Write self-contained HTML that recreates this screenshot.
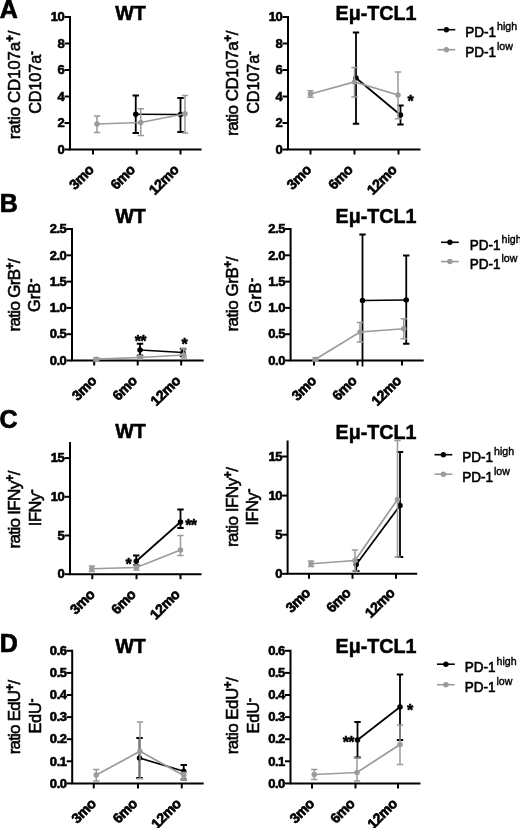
<!DOCTYPE html>
<html><head><meta charset="utf-8"><title>Figure</title>
<style>
html,body{margin:0;padding:0;background:#fff}
svg{display:block;filter:blur(.35px)}
text{font-family:"Liberation Sans", Arial, sans-serif;fill:#000}
.tk{font-size:13px;font-weight:bold;stroke:#000;stroke-width:.6px;letter-spacing:-.45px}
.xk{font-size:14.1px;font-weight:bold;stroke:#000;stroke-width:.65px;letter-spacing:-.35px}
.ti{font-size:19.7px;font-weight:bold;stroke:#000;stroke-width:.5px}
.le{font-size:25px;font-weight:bold;stroke:#000;stroke-width:.7px}
.yl{stroke:#000;stroke-width:.55px}
.lg{font-size:15.2px;stroke:#000;stroke-width:.65px}
.ls{font-size:10.6px;stroke:#000;stroke-width:.4px}
.st{font-size:16px;font-weight:bold;stroke:#000;stroke-width:.5px;letter-spacing:-.6px}
</style></head><body>
<svg width="520" height="828" viewBox="0 0 520 828">
<rect width="520" height="828" fill="#fff"/>
<text x="-0.3" y="17.5" class="le">A</text>
<path d="M70 16.0V149.5H201.5" fill="none" stroke="#000" stroke-width="2"/>
<path d="M64.5 149.5H70" stroke="#000" stroke-width="2"/>
<text x="64.4" y="153.7" text-anchor="end" class="tk">0</text>
<path d="M64.5 123.0H70" stroke="#000" stroke-width="2"/>
<text x="64.4" y="127.2" text-anchor="end" class="tk">2</text>
<path d="M64.5 96.5H70" stroke="#000" stroke-width="2"/>
<text x="64.4" y="100.7" text-anchor="end" class="tk">4</text>
<path d="M64.5 70.0H70" stroke="#000" stroke-width="2"/>
<text x="64.4" y="74.2" text-anchor="end" class="tk">6</text>
<path d="M64.5 43.5H70" stroke="#000" stroke-width="2"/>
<text x="64.4" y="47.7" text-anchor="end" class="tk">8</text>
<path d="M64.5 17.0H70" stroke="#000" stroke-width="2"/>
<text x="64.4" y="21.2" text-anchor="end" class="tk">10</text>
<path d="M93 149.5V154.5" stroke="#000" stroke-width="2"/>
<text transform="translate(94.7 170.7) rotate(-45)" text-anchor="end" class="xk">3mo</text>
<path d="M136.75 149.5V154.5" stroke="#000" stroke-width="2"/>
<text transform="translate(135.95 170.7) rotate(-45)" text-anchor="end" class="xk">6mo</text>
<path d="M180.5 149.5V154.5" stroke="#000" stroke-width="2"/>
<text transform="translate(179.7 170.7) rotate(-45)" text-anchor="end" class="xk">12mo</text>
<text x="130.5" y="19.8" text-anchor="middle" class="ti">WT</text>
<text transform="translate(20.4 139.20000000000002) rotate(-90)" textLength="108.6" lengthAdjust="spacing" class="yl" font-size="17">ratio CD107a<tspan dy="-6" font-size="12" font-weight="bold">+</tspan><tspan dy="6">/</tspan></text>
<text transform="translate(41.2 113.8) rotate(-90)" textLength="62.9" lengthAdjust="spacing" class="yl" font-size="16.4">CD107a<tspan dy="-5" font-size="12" font-weight="bold">-</tspan></text>
<path d="M135.75 114.25 L180.5 114.5" fill="none" stroke="#000" stroke-width="1.75"/>
<path d="M135.75 95.5V133M132.55 95.5H138.95M132.55 133H138.95" fill="none" stroke="#000" stroke-width="1.8"/>
<circle cx="135.75" cy="114.25" r="2.75" fill="#000"/>
<path d="M180.5 98V132M177.3 98H183.7M177.3 132H183.7" fill="none" stroke="#000" stroke-width="1.8"/>
<circle cx="180.5" cy="114.5" r="2.75" fill="#000"/>
<path d="M97 124 L140.75 122.5 L185 113.75" fill="none" stroke="#9b9b9b" stroke-width="1.75"/>
<path d="M97 116V132.5M93.8 116H100.2M93.8 132.5H100.2" fill="none" stroke="#9b9b9b" stroke-width="1.5"/>
<circle cx="97" cy="124" r="2.75" fill="#9b9b9b"/>
<path d="M140.75 108.75V135.5M137.55 108.75H143.95M137.55 135.5H143.95" fill="none" stroke="#9b9b9b" stroke-width="1.5"/>
<circle cx="140.75" cy="122.5" r="2.75" fill="#9b9b9b"/>
<path d="M185 95.5V133M181.8 95.5H188.2M181.8 133H188.2" fill="none" stroke="#9b9b9b" stroke-width="1.5"/>
<circle cx="185" cy="113.75" r="2.75" fill="#9b9b9b"/>
<path d="M288 16.0V149.5H420.5" fill="none" stroke="#000" stroke-width="2"/>
<path d="M282.5 149.5H288" stroke="#000" stroke-width="2"/>
<text x="282.4" y="153.7" text-anchor="end" class="tk">0</text>
<path d="M282.5 123.0H288" stroke="#000" stroke-width="2"/>
<text x="282.4" y="127.2" text-anchor="end" class="tk">2</text>
<path d="M282.5 96.5H288" stroke="#000" stroke-width="2"/>
<text x="282.4" y="100.7" text-anchor="end" class="tk">4</text>
<path d="M282.5 70.0H288" stroke="#000" stroke-width="2"/>
<text x="282.4" y="74.2" text-anchor="end" class="tk">6</text>
<path d="M282.5 43.5H288" stroke="#000" stroke-width="2"/>
<text x="282.4" y="47.7" text-anchor="end" class="tk">8</text>
<path d="M282.5 17.0H288" stroke="#000" stroke-width="2"/>
<text x="282.4" y="21.2" text-anchor="end" class="tk">10</text>
<path d="M310.5 149.5V154.5" stroke="#000" stroke-width="2"/>
<text transform="translate(312.2 170.7) rotate(-45)" text-anchor="end" class="xk">3mo</text>
<path d="M354.5 149.5V154.5" stroke="#000" stroke-width="2"/>
<text transform="translate(353.7 170.7) rotate(-45)" text-anchor="end" class="xk">6mo</text>
<path d="M398.5 149.5V154.5" stroke="#000" stroke-width="2"/>
<text transform="translate(397.7 170.7) rotate(-45)" text-anchor="end" class="xk">12mo</text>
<text x="376.0" y="19.6" text-anchor="middle" class="ti">Eμ-TCL1</text>
<text transform="translate(238.4 136.0) rotate(-90)" textLength="105.4" lengthAdjust="spacing" class="yl" font-size="17">ratio CD107a<tspan dy="-6" font-size="12" font-weight="bold">+</tspan><tspan dy="6">/</tspan></text>
<text transform="translate(259.2 113.8) rotate(-90)" textLength="62.9" lengthAdjust="spacing" class="yl" font-size="16.4">CD107a<tspan dy="-5" font-size="12" font-weight="bold">-</tspan></text>
<path d="M356 78 L400.5 115" fill="none" stroke="#000" stroke-width="1.75"/>
<path d="M356 32.5V123.75M352.8 32.5H359.2M352.8 123.75H359.2" fill="none" stroke="#000" stroke-width="1.8"/>
<circle cx="356" cy="78" r="2.75" fill="#000"/>
<path d="M400.5 105.5V124.5M397.3 105.5H403.7M397.3 124.5H403.7" fill="none" stroke="#000" stroke-width="1.8"/>
<circle cx="400.5" cy="115" r="2.75" fill="#000"/>
<path d="M310.5 94 L354.5 82 L398 95" fill="none" stroke="#9b9b9b" stroke-width="1.75"/>
<path d="M310.5 90.7V97.3M307.3 90.7H313.7M307.3 97.3H313.7" fill="none" stroke="#9b9b9b" stroke-width="1.5"/>
<circle cx="310.5" cy="94" r="2.75" fill="#9b9b9b"/>
<path d="M354.5 67.5V97M351.3 67.5H357.7M351.3 97H357.7" fill="none" stroke="#9b9b9b" stroke-width="1.5"/>
<circle cx="354.5" cy="82" r="2.75" fill="#9b9b9b"/>
<path d="M398 72V118.75M394.8 72H401.2M394.8 118.75H401.2" fill="none" stroke="#9b9b9b" stroke-width="1.5"/>
<circle cx="398" cy="95" r="2.75" fill="#9b9b9b"/>
<text x="410.3" y="107.35" text-anchor="middle" class="st">*</text>
<path d="M437.5 29.7H455.3" stroke="#000" stroke-width="1.6"/>
<circle cx="446.4" cy="29.7" r="2.7" fill="#000"/>
<text transform="translate(465.3 37.2) scale(.89 1)" class="lg">PD-1</text>
<text x="497" y="30.0" class="ls">high</text>
<path d="M437.5 49.7H455.3" stroke="#9b9b9b" stroke-width="1.6"/>
<circle cx="446.4" cy="49.7" r="2.7" fill="#9b9b9b"/>
<text transform="translate(465.3 57.2) scale(.89 1)" class="lg">PD-1</text>
<text x="497" y="50.0" class="ls">low</text>
<text x="-0.3" y="211.6" class="le">B</text>
<path d="M72 228.0V360.5H203.7" fill="none" stroke="#000" stroke-width="2"/>
<path d="M66.5 360.5H72" stroke="#000" stroke-width="2"/>
<text x="66.4" y="364.7" text-anchor="end" class="tk">0.0</text>
<path d="M66.5 334.2H72" stroke="#000" stroke-width="2"/>
<text x="66.4" y="338.4" text-anchor="end" class="tk">0.5</text>
<path d="M66.5 307.9H72" stroke="#000" stroke-width="2"/>
<text x="66.4" y="312.09999999999997" text-anchor="end" class="tk">1.0</text>
<path d="M66.5 281.6H72" stroke="#000" stroke-width="2"/>
<text x="66.4" y="285.8" text-anchor="end" class="tk">1.5</text>
<path d="M66.5 255.3H72" stroke="#000" stroke-width="2"/>
<text x="66.4" y="259.5" text-anchor="end" class="tk">2.0</text>
<path d="M66.5 229.0H72" stroke="#000" stroke-width="2"/>
<text x="66.4" y="233.2" text-anchor="end" class="tk">2.5</text>
<path d="M94.2 360.5V365.5" stroke="#000" stroke-width="2"/>
<text transform="translate(97.4 381.7) rotate(-45)" text-anchor="end" class="xk">3mo</text>
<path d="M137.7 360.5V365.5" stroke="#000" stroke-width="2"/>
<text transform="translate(137.89999999999998 381.7) rotate(-45)" text-anchor="end" class="xk">6mo</text>
<path d="M181.2 360.5V365.5" stroke="#000" stroke-width="2"/>
<text transform="translate(181.39999999999998 381.7) rotate(-45)" text-anchor="end" class="xk">12mo</text>
<text x="130.5" y="223.3" text-anchor="middle" class="ti">WT</text>
<text transform="translate(20.0 331.6) rotate(-90)" textLength="73.2" lengthAdjust="spacing" class="yl" font-size="17">ratio GrB<tspan dy="-6" font-size="12" font-weight="bold">+</tspan><tspan dy="6">/</tspan></text>
<text transform="translate(40.2 312.1) rotate(-90)" textLength="33.5" lengthAdjust="spacing" class="yl" font-size="16.4">GrB<tspan dy="-5" font-size="12" font-weight="bold">-</tspan></text>
<path d="M140 350 L183 352.5" fill="none" stroke="#000" stroke-width="1.75"/>
<path d="M140 343.75V355.5M136.8 343.75H143.2M136.8 355.5H143.2" fill="none" stroke="#000" stroke-width="1.8"/>
<circle cx="140" cy="350" r="2.75" fill="#000"/>
<path d="M183 348.75V356M179.8 348.75H186.2M179.8 356H186.2" fill="none" stroke="#000" stroke-width="1.8"/>
<circle cx="183" cy="352.5" r="2.75" fill="#000"/>
<path d="M96.3 359.2 L140 357.5 L183.75 355" fill="none" stroke="#9b9b9b" stroke-width="1.75"/>
<path d="M96.3 357.7V360.7M93.1 357.7H99.5M93.1 360.7H99.5" fill="none" stroke="#9b9b9b" stroke-width="1.5"/>
<circle cx="96.3" cy="359.2" r="2.75" fill="#9b9b9b"/>
<path d="M140 356V359M136.8 356H143.2M136.8 359H143.2" fill="none" stroke="#9b9b9b" stroke-width="1.5"/>
<circle cx="140" cy="357.5" r="2.75" fill="#9b9b9b"/>
<path d="M183.75 348.75V358M180.55 348.75H186.95M180.55 358H186.95" fill="none" stroke="#9b9b9b" stroke-width="1.5"/>
<circle cx="183.75" cy="355" r="2.75" fill="#9b9b9b"/>
<text x="140.3" y="346.6" text-anchor="middle" class="st">**</text>
<text x="184.3" y="349.6" text-anchor="middle" class="st">*</text>
<path d="M290.6 228.0V360.5H423.75" fill="none" stroke="#000" stroke-width="2"/>
<path d="M285.1 360.5H290.6" stroke="#000" stroke-width="2"/>
<text x="285.0" y="364.7" text-anchor="end" class="tk">0.0</text>
<path d="M285.1 334.2H290.6" stroke="#000" stroke-width="2"/>
<text x="285.0" y="338.4" text-anchor="end" class="tk">0.5</text>
<path d="M285.1 307.9H290.6" stroke="#000" stroke-width="2"/>
<text x="285.0" y="312.09999999999997" text-anchor="end" class="tk">1.0</text>
<path d="M285.1 281.6H290.6" stroke="#000" stroke-width="2"/>
<text x="285.0" y="285.8" text-anchor="end" class="tk">1.5</text>
<path d="M285.1 255.3H290.6" stroke="#000" stroke-width="2"/>
<text x="285.0" y="259.5" text-anchor="end" class="tk">2.0</text>
<path d="M285.1 229.0H290.6" stroke="#000" stroke-width="2"/>
<text x="285.0" y="233.2" text-anchor="end" class="tk">2.5</text>
<path d="M314 360.5V365.5" stroke="#000" stroke-width="2"/>
<text transform="translate(317.2 381.7) rotate(-45)" text-anchor="end" class="xk">3mo</text>
<path d="M357.5 360.5V365.5" stroke="#000" stroke-width="2"/>
<text transform="translate(357.7 381.7) rotate(-45)" text-anchor="end" class="xk">6mo</text>
<path d="M402 360.5V365.5" stroke="#000" stroke-width="2"/>
<text transform="translate(402.2 381.7) rotate(-45)" text-anchor="end" class="xk">12mo</text>
<text x="376.0" y="223.2" text-anchor="middle" class="ti">Eμ-TCL1</text>
<text transform="translate(238.3 331.6) rotate(-90)" textLength="75.2" lengthAdjust="spacing" class="yl" font-size="17">ratio GrB<tspan dy="-6" font-size="12" font-weight="bold">+</tspan><tspan dy="6">/</tspan></text>
<text transform="translate(260.7 312.8) rotate(-90)" textLength="34.9" lengthAdjust="spacing" class="yl" font-size="16.4">GrB<tspan dy="-5" font-size="12" font-weight="bold">-</tspan></text>
<path d="M362.5 300.5 L406.25 300" fill="none" stroke="#000" stroke-width="1.75"/>
<path d="M362.5 234.5V366.5M359.3 234.5H365.7" fill="none" stroke="#000" stroke-width="1.8"/>
<circle cx="362.5" cy="300.5" r="2.75" fill="#000"/>
<path d="M406.25 255.5V343.75M403.05 255.5H409.45M403.05 343.75H409.45" fill="none" stroke="#000" stroke-width="1.8"/>
<circle cx="406.25" cy="300" r="2.75" fill="#000"/>
<path d="M315.5 359.2 L360 332 L403.75 328.75" fill="none" stroke="#9b9b9b" stroke-width="1.75"/>
<path d="M315.5 357.7V360.7M312.3 357.7H318.7M312.3 360.7H318.7" fill="none" stroke="#9b9b9b" stroke-width="1.5"/>
<circle cx="315.5" cy="359.2" r="2.75" fill="#9b9b9b"/>
<path d="M360 322.5V342M356.8 322.5H363.2M356.8 342H363.2" fill="none" stroke="#9b9b9b" stroke-width="1.5"/>
<circle cx="360" cy="332" r="2.75" fill="#9b9b9b"/>
<path d="M403.75 318.75V338.75M400.55 318.75H406.95M400.55 338.75H406.95" fill="none" stroke="#9b9b9b" stroke-width="1.5"/>
<circle cx="403.75" cy="328.75" r="2.75" fill="#9b9b9b"/>
<path d="M441 242.29999999999998H458.8" stroke="#000" stroke-width="1.6"/>
<circle cx="449.9" cy="242.29999999999998" r="2.7" fill="#000"/>
<text transform="translate(469.8 249.79999999999998) scale(.89 1)" class="lg">PD-1</text>
<text x="501.5" y="242.6" class="ls">high</text>
<path d="M441 261.55H458.8" stroke="#9b9b9b" stroke-width="1.6"/>
<circle cx="449.9" cy="261.55" r="2.7" fill="#9b9b9b"/>
<text transform="translate(469.8 269.05) scale(.89 1)" class="lg">PD-1</text>
<text x="501.5" y="261.85" class="ls">low</text>
<text x="-0.6" y="427.8" class="le">C</text>
<path d="M70 442V574.2H201.5" fill="none" stroke="#000" stroke-width="2"/>
<path d="M64.5 574.2H70" stroke="#000" stroke-width="2"/>
<text x="64.4" y="578.4000000000001" text-anchor="end" class="tk">0</text>
<path d="M64.5 535.5H70" stroke="#000" stroke-width="2"/>
<text x="64.4" y="539.7" text-anchor="end" class="tk">5</text>
<path d="M64.5 496.8H70" stroke="#000" stroke-width="2"/>
<text x="64.4" y="501.0" text-anchor="end" class="tk">10</text>
<path d="M64.5 458.1H70" stroke="#000" stroke-width="2"/>
<text x="64.4" y="462.3" text-anchor="end" class="tk">15</text>
<path d="M92.3 574.2V579.2" stroke="#000" stroke-width="2"/>
<text transform="translate(95.5 595.4000000000001) rotate(-45)" text-anchor="end" class="xk">3mo</text>
<path d="M136.5 574.2V579.2" stroke="#000" stroke-width="2"/>
<text transform="translate(136.7 595.4000000000001) rotate(-45)" text-anchor="end" class="xk">6mo</text>
<path d="M180.5 574.2V579.2" stroke="#000" stroke-width="2"/>
<text transform="translate(180.7 595.4000000000001) rotate(-45)" text-anchor="end" class="xk">12mo</text>
<text x="130.5" y="437.8" text-anchor="middle" class="ti">WT</text>
<text transform="translate(20.0 548.4) rotate(-90)" textLength="77.9" lengthAdjust="spacing" class="yl" font-size="17">ratio IFNy<tspan dy="-6" font-size="12" font-weight="bold">+</tspan><tspan dy="6">/</tspan></text>
<text transform="translate(40.6 526.1999999999999) rotate(-90)" textLength="36.9" lengthAdjust="spacing" class="yl" font-size="16.4">IFNy<tspan dy="-5" font-size="12" font-weight="bold">-</tspan></text>
<path d="M136.25 561.25 L180.5 522" fill="none" stroke="#000" stroke-width="1.75"/>
<path d="M136.25 555.5V565M133.05 555.5H139.45M133.05 565H139.45" fill="none" stroke="#000" stroke-width="1.8"/>
<circle cx="136.25" cy="561.25" r="2.75" fill="#000"/>
<path d="M180.5 509.5V528M177.3 509.5H183.7M177.3 528H183.7" fill="none" stroke="#000" stroke-width="1.8"/>
<circle cx="180.5" cy="522" r="2.75" fill="#000"/>
<path d="M91.8 568.75 L136.5 567.5 L180.5 550" fill="none" stroke="#9b9b9b" stroke-width="1.75"/>
<path d="M91.8 566.1V571.4M88.6 566.1H95.0M88.6 571.4H95.0" fill="none" stroke="#9b9b9b" stroke-width="1.5"/>
<circle cx="91.8" cy="568.75" r="2.75" fill="#9b9b9b"/>
<path d="M136.5 564.9V570.1M133.3 564.9H139.7M133.3 570.1H139.7" fill="none" stroke="#9b9b9b" stroke-width="1.5"/>
<circle cx="136.5" cy="567.5" r="2.75" fill="#9b9b9b"/>
<path d="M180.5 535.5V555.5M177.3 535.5H183.7M177.3 555.5H183.7" fill="none" stroke="#9b9b9b" stroke-width="1.5"/>
<circle cx="180.5" cy="550" r="2.75" fill="#9b9b9b"/>
<text x="128.3" y="569.6" text-anchor="middle" class="st">*</text>
<text x="190.8" y="530.6" text-anchor="middle" class="st">**</text>
<path d="M287.6 440.5V573.8H417.2" fill="none" stroke="#000" stroke-width="2"/>
<path d="M282.1 573.8H287.6" stroke="#000" stroke-width="2"/>
<text x="282.0" y="578.0" text-anchor="end" class="tk">0</text>
<path d="M282.1 534.7H287.6" stroke="#000" stroke-width="2"/>
<text x="282.0" y="538.9000000000001" text-anchor="end" class="tk">5</text>
<path d="M282.1 495.6H287.6" stroke="#000" stroke-width="2"/>
<text x="282.0" y="499.8" text-anchor="end" class="tk">10</text>
<path d="M282.1 456.5H287.6" stroke="#000" stroke-width="2"/>
<text x="282.0" y="460.7" text-anchor="end" class="tk">15</text>
<path d="M309 573.8V578.8" stroke="#000" stroke-width="2"/>
<text transform="translate(311.2 593.8) rotate(-45)" text-anchor="end" class="xk">3mo</text>
<path d="M352.5 573.8V578.8" stroke="#000" stroke-width="2"/>
<text transform="translate(351.7 593.8) rotate(-45)" text-anchor="end" class="xk">6mo</text>
<path d="M396 573.8V578.8" stroke="#000" stroke-width="2"/>
<text transform="translate(395.7 593.8) rotate(-45)" text-anchor="end" class="xk">12mo</text>
<text x="376.0" y="439.3" text-anchor="middle" class="ti">Eμ-TCL1</text>
<text transform="translate(237.5 547.0999999999999) rotate(-90)" textLength="80.0" lengthAdjust="spacing" class="yl" font-size="17">ratio IFNy<tspan dy="-6" font-size="12" font-weight="bold">+</tspan><tspan dy="6">/</tspan></text>
<text transform="translate(258.3 525.5) rotate(-90)" textLength="36.9" lengthAdjust="spacing" class="yl" font-size="16.4">IFNy<tspan dy="-5" font-size="12" font-weight="bold">-</tspan></text>
<path d="M356.25 564.5 L400 505.5" fill="none" stroke="#000" stroke-width="1.75"/>
<path d="M356.25 560V571M353.05 560H359.45M353.05 571H359.45" fill="none" stroke="#000" stroke-width="1.8"/>
<circle cx="356.25" cy="564.5" r="2.75" fill="#000"/>
<path d="M400 452V557M396.8 452H403.2M396.8 557H403.2" fill="none" stroke="#000" stroke-width="1.8"/>
<circle cx="400" cy="505.5" r="2.75" fill="#000"/>
<path d="M311 563.75 L355 560.5 L397.5 499.5" fill="none" stroke="#9b9b9b" stroke-width="1.75"/>
<path d="M311 561.1V566.4M307.8 561.1H314.2M307.8 566.4H314.2" fill="none" stroke="#9b9b9b" stroke-width="1.5"/>
<circle cx="311" cy="563.75" r="2.75" fill="#9b9b9b"/>
<path d="M355 550V571M351.8 550H358.2M351.8 571H358.2" fill="none" stroke="#9b9b9b" stroke-width="1.5"/>
<circle cx="355" cy="560.5" r="2.75" fill="#9b9b9b"/>
<path d="M397.5 440.5V557M394.3 440.5H400.7M394.3 557H400.7" fill="none" stroke="#9b9b9b" stroke-width="1.5"/>
<circle cx="397.5" cy="499.5" r="2.75" fill="#9b9b9b"/>
<path d="M434.5 454.7H452.3" stroke="#000" stroke-width="1.6"/>
<circle cx="443.4" cy="454.7" r="2.7" fill="#000"/>
<text transform="translate(462.3 462.2) scale(.89 1)" class="lg">PD-1</text>
<text x="494" y="455.0" class="ls">high</text>
<path d="M434.5 474.2H452.3" stroke="#9b9b9b" stroke-width="1.6"/>
<circle cx="443.4" cy="474.2" r="2.7" fill="#9b9b9b"/>
<text transform="translate(462.3 481.7) scale(.89 1)" class="lg">PD-1</text>
<text x="494" y="474.5" class="ls">low</text>
<text x="-0.3" y="652.2" class="le">D</text>
<path d="M72.2 649.8V783.4H203.7" fill="none" stroke="#000" stroke-width="2"/>
<path d="M66.7 783.4H72.2" stroke="#000" stroke-width="2"/>
<text x="66.60000000000001" y="787.6" text-anchor="end" class="tk">0.0</text>
<path d="M66.7 761.3H72.2" stroke="#000" stroke-width="2"/>
<text x="66.60000000000001" y="765.5" text-anchor="end" class="tk">0.1</text>
<path d="M66.7 739.2H72.2" stroke="#000" stroke-width="2"/>
<text x="66.60000000000001" y="743.4000000000001" text-anchor="end" class="tk">0.2</text>
<path d="M66.7 717.1H72.2" stroke="#000" stroke-width="2"/>
<text x="66.60000000000001" y="721.3000000000001" text-anchor="end" class="tk">0.3</text>
<path d="M66.7 695.0H72.2" stroke="#000" stroke-width="2"/>
<text x="66.60000000000001" y="699.2" text-anchor="end" class="tk">0.4</text>
<path d="M66.7 672.9H72.2" stroke="#000" stroke-width="2"/>
<text x="66.60000000000001" y="677.1" text-anchor="end" class="tk">0.5</text>
<path d="M66.7 650.8H72.2" stroke="#000" stroke-width="2"/>
<text x="66.60000000000001" y="655.0" text-anchor="end" class="tk">0.6</text>
<path d="M93.75 783.4V788.4" stroke="#000" stroke-width="2"/>
<text transform="translate(96.95 804.6) rotate(-45)" text-anchor="end" class="xk">3mo</text>
<path d="M138 783.4V788.4" stroke="#000" stroke-width="2"/>
<text transform="translate(138.2 804.6) rotate(-45)" text-anchor="end" class="xk">6mo</text>
<path d="M181.75 783.4V788.4" stroke="#000" stroke-width="2"/>
<text transform="translate(181.95 804.6) rotate(-45)" text-anchor="end" class="xk">12mo</text>
<text x="130.5" y="652.6" text-anchor="middle" class="ti">WT</text>
<text transform="translate(20.0 754.3) rotate(-90)" textLength="74.5" lengthAdjust="spacing" class="yl" font-size="17">ratio EdU<tspan dy="-6" font-size="12" font-weight="bold">+</tspan><tspan dy="6">/</tspan></text>
<text transform="translate(40.6 733.5) rotate(-90)" textLength="34.9" lengthAdjust="spacing" class="yl" font-size="16.4">EdU<tspan dy="-5" font-size="12" font-weight="bold">-</tspan></text>
<path d="M139.5 758 L183.75 771.25" fill="none" stroke="#000" stroke-width="1.75"/>
<path d="M139.5 738V778M136.3 738H142.7M136.3 778H142.7" fill="none" stroke="#000" stroke-width="1.8"/>
<circle cx="139.5" cy="758" r="2.75" fill="#000"/>
<path d="M183.75 765V779.5M180.55 765H186.95M180.55 779.5H186.95" fill="none" stroke="#000" stroke-width="1.8"/>
<circle cx="183.75" cy="771.25" r="2.75" fill="#000"/>
<path d="M96.25 775 L140 751.25 L183.75 775.5" fill="none" stroke="#9b9b9b" stroke-width="1.75"/>
<path d="M96.25 769.5V781M93.05 769.5H99.45M93.05 781H99.45" fill="none" stroke="#9b9b9b" stroke-width="1.5"/>
<circle cx="96.25" cy="775" r="2.75" fill="#9b9b9b"/>
<path d="M140 722V778.75M136.8 722H143.2M136.8 778.75H143.2" fill="none" stroke="#9b9b9b" stroke-width="1.5"/>
<circle cx="140" cy="751.25" r="2.75" fill="#9b9b9b"/>
<path d="M183.75 772.5V779.5M180.55 772.5H186.95M180.55 779.5H186.95" fill="none" stroke="#9b9b9b" stroke-width="1.5"/>
<circle cx="183.75" cy="775.5" r="2.75" fill="#9b9b9b"/>
<path d="M290.5 649.8V783.4H420.5" fill="none" stroke="#000" stroke-width="2"/>
<path d="M285.0 783.4H290.5" stroke="#000" stroke-width="2"/>
<text x="284.9" y="787.6" text-anchor="end" class="tk">0.0</text>
<path d="M285.0 761.3H290.5" stroke="#000" stroke-width="2"/>
<text x="284.9" y="765.5" text-anchor="end" class="tk">0.1</text>
<path d="M285.0 739.2H290.5" stroke="#000" stroke-width="2"/>
<text x="284.9" y="743.4000000000001" text-anchor="end" class="tk">0.2</text>
<path d="M285.0 717.1H290.5" stroke="#000" stroke-width="2"/>
<text x="284.9" y="721.3000000000001" text-anchor="end" class="tk">0.3</text>
<path d="M285.0 695.0H290.5" stroke="#000" stroke-width="2"/>
<text x="284.9" y="699.2" text-anchor="end" class="tk">0.4</text>
<path d="M285.0 672.9H290.5" stroke="#000" stroke-width="2"/>
<text x="284.9" y="677.1" text-anchor="end" class="tk">0.5</text>
<path d="M285.0 650.8H290.5" stroke="#000" stroke-width="2"/>
<text x="284.9" y="655.0" text-anchor="end" class="tk">0.6</text>
<path d="M312 783.4V788.4" stroke="#000" stroke-width="2"/>
<text transform="translate(315.2 804.6) rotate(-45)" text-anchor="end" class="xk">3mo</text>
<path d="M355.5 783.4V788.4" stroke="#000" stroke-width="2"/>
<text transform="translate(355.7 804.6) rotate(-45)" text-anchor="end" class="xk">6mo</text>
<path d="M398 783.4V788.4" stroke="#000" stroke-width="2"/>
<text transform="translate(398.2 804.6) rotate(-45)" text-anchor="end" class="xk">12mo</text>
<text x="376.0" y="653.4" text-anchor="middle" class="ti">Eμ-TCL1</text>
<text transform="translate(238.0 754.3) rotate(-90)" textLength="77.2" lengthAdjust="spacing" class="yl" font-size="17">ratio EdU<tspan dy="-6" font-size="12" font-weight="bold">+</tspan><tspan dy="6">/</tspan></text>
<text transform="translate(258.6 733.5) rotate(-90)" textLength="35.4" lengthAdjust="spacing" class="yl" font-size="16.4">EdU<tspan dy="-5" font-size="12" font-weight="bold">-</tspan></text>
<path d="M357.5 740 L400 707" fill="none" stroke="#000" stroke-width="1.75"/>
<path d="M357.5 722V757.5M354.3 722H360.7M354.3 757.5H360.7" fill="none" stroke="#000" stroke-width="1.8"/>
<circle cx="357.5" cy="740" r="2.75" fill="#000"/>
<path d="M400 674.5V740M396.8 674.5H403.2M396.8 740H403.2" fill="none" stroke="#000" stroke-width="1.8"/>
<circle cx="400" cy="707" r="2.75" fill="#000"/>
<path d="M314.25 774.5 L357 772.5 L400 744.5" fill="none" stroke="#9b9b9b" stroke-width="1.75"/>
<path d="M314.25 769.5V779.5M311.05 769.5H317.45M311.05 779.5H317.45" fill="none" stroke="#9b9b9b" stroke-width="1.5"/>
<circle cx="314.25" cy="774.5" r="2.75" fill="#9b9b9b"/>
<path d="M357 758V781M353.8 758H360.2M353.8 781H360.2" fill="none" stroke="#9b9b9b" stroke-width="1.5"/>
<circle cx="357" cy="772.5" r="2.75" fill="#9b9b9b"/>
<path d="M400 725V764.5M396.8 725H403.2M396.8 764.5H403.2" fill="none" stroke="#9b9b9b" stroke-width="1.5"/>
<circle cx="400" cy="744.5" r="2.75" fill="#9b9b9b"/>
<text x="348.3" y="747.6" text-anchor="middle" class="st">**</text>
<text x="409.8" y="716.1" text-anchor="middle" class="st">*</text>
<path d="M437 664.2H454.8" stroke="#000" stroke-width="1.6"/>
<circle cx="445.9" cy="664.2" r="2.7" fill="#000"/>
<text transform="translate(464.8 671.7) scale(.89 1)" class="lg">PD-1</text>
<text x="496.5" y="664.5" class="ls">high</text>
<path d="M437 684.7H454.8" stroke="#9b9b9b" stroke-width="1.6"/>
<circle cx="445.9" cy="684.7" r="2.7" fill="#9b9b9b"/>
<text transform="translate(464.8 692.2) scale(.89 1)" class="lg">PD-1</text>
<text x="496.5" y="685.0" class="ls">low</text>
</svg>
</body></html>
